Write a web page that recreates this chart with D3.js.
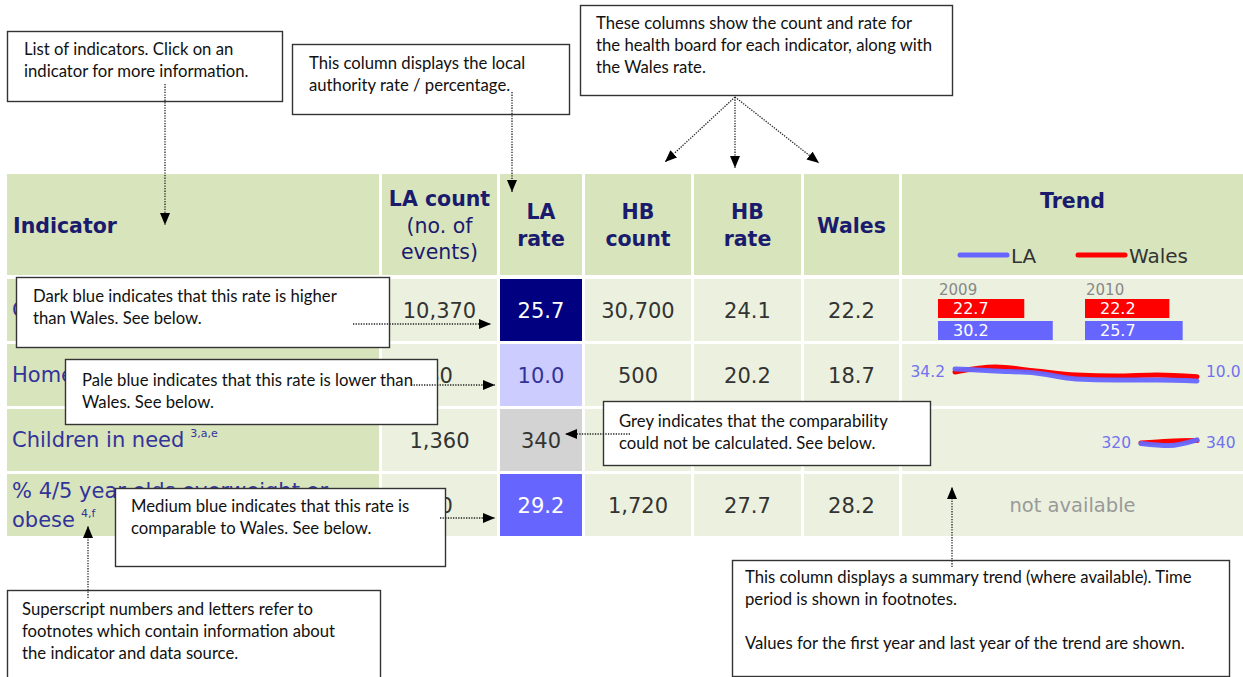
<!DOCTYPE html>
<html><head><meta charset="utf-8">
<script src="https://cdn.jsdelivr.net/npm/d3@7"></script>
<style>body{margin:0;background:#fff}svg{display:block}</style>
</head><body>
<svg id="c" width="1243" height="677"></svg>
<script>
// ---------------- data ----------------
const headerLabels = [["Indicator"], ["LA count", "(no. of", "events)"], ["LA", "rate"], ["HB", "count"], ["HB", "rate"], ["Wales"], ["Trend"]];
const indicators = [["Crime rate"], ["Homelessness"], ["Children in need"], ["% 4/5 year olds overweight or", "obese"]];
const footnotes = ["", "", "3,a,e", "4,f"];
const laCount = ["10,370", "80", "1,360", "30"];
const laRate = ["25.7", "10.0", "340", "29.2"];
const comparison = ["higher", "lower", "none", "similar"];
const hbCount = ["30,700", "500", "", "1,720"];
const hbRate = ["24.1", "20.2", "", "27.7"];
const walesRate = ["22.2", "18.7", "", "28.2"];
const legendKeys = ["LA", "Wales"];
// trend row 1 : bars
const barYears = ["2009", "2010"];
const barWales = [22.7, 22.2];
const barLA = [30.2, 25.7];
// trend row 2 : line
const homeYears = ["2004", "2005", "2006", "2007", "2008", "2009", "2010"];
const homeLA = [34.2, 30, 26, 14, 12, 12, 10.0];
const homeWales = [28, 38, 30, 22, 20, 22, 18.7];
// trend row 3 : line
const cinYears = ["2008", "2009", "2010"];
const cinLA = [320, 308, 340];
const cinWales = [322, 333, 336];
const notAvailable = "not available";
// annotations
const notes = [
  ["List of indicators. Click on an", "indicator for more information."],
  ["This column displays the local", "authority rate / percentage."],
  ["These columns show the count and rate for", "the health board for each indicator, along with", "the Wales  rate."],
  ["Dark blue indicates that this rate is higher", "than Wales. See below."],
  ["Pale blue indicates that this rate is lower than", "Wales. See below."],
  ["Grey indicates that the comparability", "could not be calculated. See below."],
  ["Medium blue indicates that this rate is", "comparable to Wales. See below."],
  ["Superscript numbers and letters refer to", "footnotes which contain information about", "the indicator and data source."],
  ["This column displays a summary trend (where available). Time", "period is shown in footnotes.", "", "Values for the first year and last year of the trend are shown."]
];

// ---------------- layout ----------------
const svg = d3.select("#c");
const FONT = "'DejaVu Sans', Verdana, sans-serif";
const NFONT = "Lato, 'Liberation Sans', sans-serif";
const HEAD = "#1b1b6e", LABEL = "#33339a", VAL = "#333";
const HEADBG = "#d8e4bc", BODYBG = "#ebf1de";

const cols = [[7, 379], [382, 497], [500, 582], [585, 691], [694, 801], [804, 899], [902, 1243]];
const cx = i => (cols[i][0] + cols[i][1]) / 2;
const rowIdx = d3.range(indicators.length);
const y = d3.scaleBand().domain(rowIdx).range([279, 536]).paddingInner(3 / 65);
const rc = i => y(i) + y.bandwidth() / 2;
const compColor = d3.scaleOrdinal().domain(["higher", "lower", "none", "similar"]).range(["#000080", "#ccccff", "#d3d3d3", "#6666ff"]);
const compText = d3.scaleOrdinal().domain(["higher", "lower", "none", "similar"]).range(["#fff", "#333399", "#333", "#fff"]);

// header
const hdr = svg.append("g");
hdr.selectAll("rect").data(cols).join("rect")
  .attr("x", d => d[0]).attr("y", 174).attr("width", d => d[1] - d[0]).attr("height", 101).attr("fill", HEADBG);
headerLabels.forEach((lines, ci) => {
  const n = lines.length;
  const mid = ci === 6 ? 200 : 225;
  const t = hdr.append("text").attr("font-family", FONT).attr("font-size", 20.5).attr("fill", HEAD)
    .attr("text-anchor", ci === 0 ? "start" : "middle");
  lines.forEach((l, k) => {
    t.append("tspan").attr("x", ci === 0 ? 13 : cx(ci))
      .attr("y", mid + (k - (n - 1) / 2) * 26.5 + 7.5)
      .attr("font-weight", (ci === 1 && k > 0) ? "normal" : "bold").text(l);
  });
});
// legend
const legX = d3.scaleOrdinal().domain(legendKeys).range([960, 1078]);
const legC = d3.scaleOrdinal().domain(legendKeys).range(["#6666ff", "#ff0000"]);
legendKeys.forEach(k => {
  hdr.append("line").attr("x1", legX(k)).attr("x2", legX(k) + 47).attr("y1", 255).attr("y2", 255)
    .attr("stroke", legC(k)).attr("stroke-width", 5).attr("stroke-linecap", "round");
  hdr.append("text").attr("x", legX(k) + 51).attr("y", 263).attr("font-family", FONT).attr("font-size", 20)
    .attr("fill", VAL).text(k);
});

// body cells
const body = svg.append("g");
rowIdx.forEach(r => {
  cols.forEach((c, ci) => {
    body.append("rect").attr("x", c[0]).attr("y", y(r)).attr("width", c[1] - c[0]).attr("height", y.bandwidth())
      .attr("fill", ci === 0 ? HEADBG : ci === 2 ? compColor(comparison[r]) : BODYBG);
  });
  const lines = indicators[r];
  lines.forEach((l, k) => {
    const t = body.append("text").attr("x", 12)
      .attr("y", rc(r) + 7 + (k - (lines.length - 1) / 2) * 29)
      .attr("font-family", FONT).attr("font-size", 21).attr("fill", LABEL).text(l);
    if (k === lines.length - 1 && footnotes[r]) {
      t.append("tspan").attr("dx", 6).attr("dy", -10).attr("font-size", 11).text(footnotes[r]);
    }
  });
  const vals = [laCount[r], laRate[r], hbCount[r], hbRate[r], walesRate[r]];
  vals.forEach((v, k) => {
    body.append("text").attr("x", cx(k + 1)).attr("y", rc(r) + 7.5).attr("text-anchor", "middle")
      .attr("font-family", FONT).attr("font-size", 21)
      .attr("fill", k === 1 ? compText(comparison[r]) : VAL).text(v);
  });
});

// trend row 0: bars
const bx = d3.scalePoint().domain(barYears).range([938, 1085]);
const bw = d3.scaleLinear().domain([0, 30]).range([0, 114]);
barYears.forEach((yr, i) => {
  body.append("text").attr("x", bx(yr) + 1).attr("y", 295).attr("font-family", FONT).attr("font-size", 15)
    .attr("fill", "#888").text(yr);
  [[barWales[i], "#ff0000", 299], [barLA[i], "#6666ff", 321]].forEach(([v, col, yy]) => {
    body.append("rect").attr("x", bx(yr)).attr("y", yy).attr("width", bw(v)).attr("height", 19).attr("fill", col);
    body.append("text").attr("x", bx(yr) + 15).attr("y", yy + 15).attr("font-family", FONT).attr("font-size", 16)
      .attr("fill", "#fff").text(v.toFixed(1));
  });
});

// sparkline helper
function spark(years, la, wales, xr, yd, yr, labFmt, labY) {
  const x = d3.scalePoint().domain(years).range(xr);
  const yy = d3.scaleLinear().domain(yd).range(yr);
  const line = d3.line().x((d, i) => x(years[i])).y(d => yy(d)).curve(d3.curveMonotoneX);
  body.append("path").attr("d", line(wales)).attr("fill", "none").attr("stroke", "#ff0000")
    .attr("stroke-width", 5).attr("stroke-linecap", "round");
  body.append("path").attr("d", line(la)).attr("fill", "none").attr("stroke", "#6666ff")
    .attr("stroke-width", 5).attr("stroke-linecap", "round").attr("opacity", 0.95);
  body.append("text").attr("x", xr[0] - 10).attr("y", labY).attr("text-anchor", "end").attr("font-family", FONT)
    .attr("font-size", 15.5).attr("fill", "#7272ee").text(labFmt(la[0]));
  body.append("text").attr("x", xr[1] + 9).attr("y", labY).attr("font-family", FONT)
    .attr("font-size", 15.5).attr("fill", "#7272ee").text(labFmt(la[la.length - 1]));
}
spark(homeYears, homeLA, homeWales, [955, 1197], [10, 38], [381, 367], d => d.toFixed(1), 377);
spark(cinYears, cinLA, cinWales, [1141, 1197], [300, 345], [447, 439], d => d3.format("d")(d), 448);

body.append("text").attr("x", cx(6)).attr("y", rc(3) + 7).attr("text-anchor", "middle").attr("font-family", FONT)
  .attr("font-size", 19.5).attr("fill", "#999").text(notAvailable);

// annotation boxes
const boxes = [
  {x: 7, y: 31, w: 275, h: 70, tx: 24, ty: 55},
  {x: 292, y: 44, w: 277, h: 70, tx: 309, ty: 69},
  {x: 580, y: 5, w: 372, h: 90, tx: 596, ty: 29},
  {x: 16, y: 277, w: 373, h: 70, tx: 33, ty: 302},
  {x: 65, y: 359, w: 372, h: 65, tx: 82, ty: 386},
  {x: 603, y: 401, w: 327, h: 64, tx: 619, ty: 427},
  {x: 115, y: 488, w: 330, h: 78, tx: 131, ty: 512},
  {x: 7, y: 590, w: 373, h: 100, tx: 22, ty: 615},
  {x: 732, y: 560, w: 497, h: 116, tx: 745, ty: 583}
];
const ann = svg.append("g");
boxes.forEach((b, i) => {
  ann.append("rect").attr("x", b.x + 0.5).attr("y", b.y + 0.5).attr("width", b.w).attr("height", b.h)
    .attr("fill", "#fff").attr("stroke", "#333").attr("stroke-width", 1.4);
  notes[i].forEach((l, k) => {
    ann.append("text").attr("x", b.tx).attr("y", b.ty + k * 22).attr("font-family", NFONT)
      .attr("font-size", 16.7).attr("fill", "#111").text(l);
  });
});

// arrows
const defs = svg.append("defs");
defs.append("marker").attr("id", "ah").attr("viewBox", "0 0 12 10").attr("refX", 12).attr("refY", 5)
  .attr("markerWidth", 12).attr("markerHeight", 10).attr("markerUnits", "userSpaceOnUse").attr("orient", "auto")
  .append("path").attr("d", "M0,0L12,5L0,10Z").attr("fill", "#000");
const arrows = [
  [165, 84, 165, 225], [512, 92, 512, 192],
  [735, 97, 665, 162], [735, 97, 735, 168], [735, 97, 819, 163],
  [353, 324, 491, 324], [411, 385, 495, 385], [630, 434, 565, 434], [440, 518, 495, 518],
  [88, 598, 88, 526], [952, 567, 952, 487]
];
svg.append("g").selectAll("line").data(arrows).join("line")
  .attr("x1", d => d[0]).attr("y1", d => d[1]).attr("x2", d => d[2]).attr("y2", d => d[3])
  .attr("stroke", "#222").attr("stroke-width", 1.3).attr("stroke-dasharray", "1.3 1.3")
  .attr("marker-end", "url(#ah)");
</script>
</body></html>
